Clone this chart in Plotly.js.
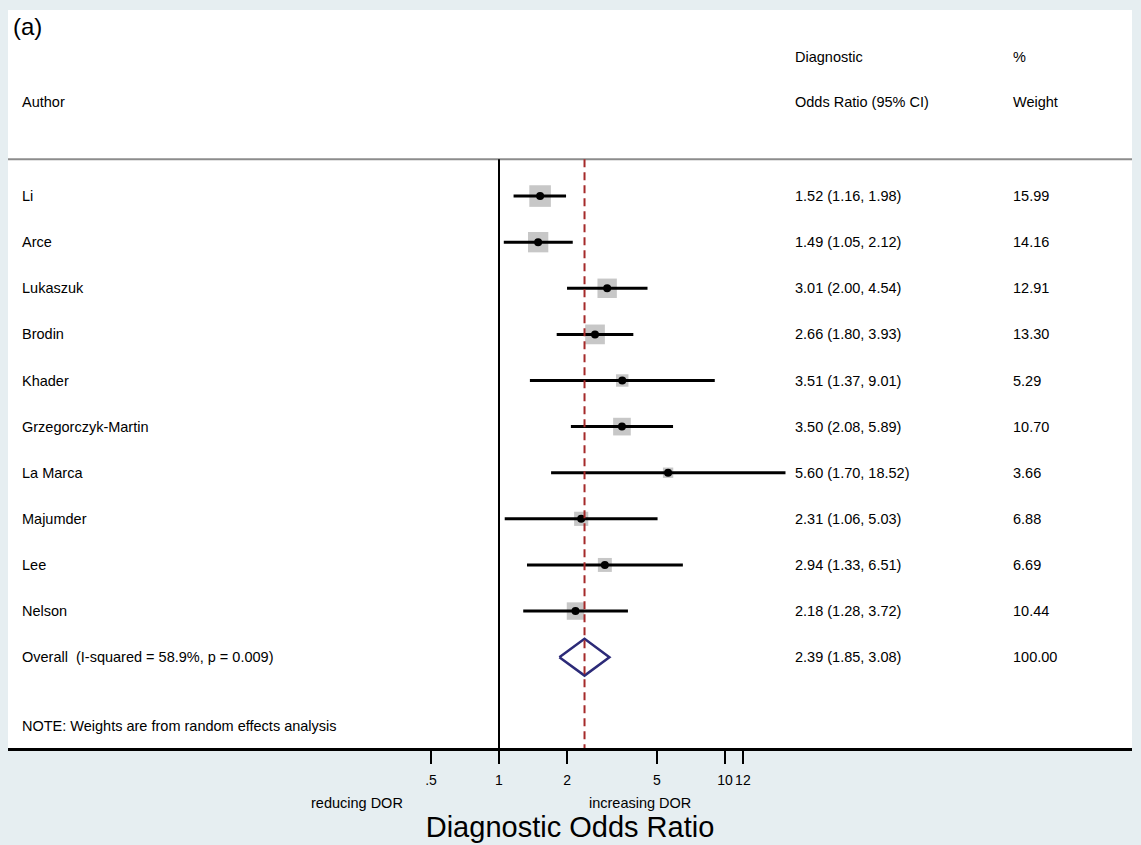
<!DOCTYPE html>
<html>
<head>
<meta charset="utf-8">
<script src="https://cdn.plot.ly/plotly-3.0.1.min.js"></script>
<style>html,body{margin:0;padding:0;background:#e6eef1;}#chart{width:1141px;height:845px;}</style>
</head>
<body>
<div id="chart"></div>
<script>
// ---- data ----
var authors = ["Li","Arce","Lukaszuk","Brodin","Khader","Grzegorczyk-Martin","La Marca","Majumder","Lee","Nelson"];
var dor     = [1.52, 1.49, 3.01, 2.66, 3.51, 3.50, 5.60, 2.31, 2.94, 2.18];
var ciLow   = [1.16, 1.05, 2.00, 1.80, 1.37, 2.08, 1.70, 1.06, 1.33, 1.28];
var ciHigh  = [1.98, 2.12, 4.54, 3.93, 9.01, 5.89, 18.52, 5.03, 6.51, 3.72];
var weights = [15.99, 14.16, 12.91, 13.30, 5.29, 10.70, 3.66, 6.88, 6.69, 10.44];
var overallLabel = "Overall  (I-squared = 58.9%, p = 0.009)";
var overallDor = 2.39, overallLow = 1.85, overallHigh = 3.08, overallWeight = 100.00;
var noteText = "NOTE: Weights are from random effects analysis";
var tickVals = [0.5, 1, 2, 5, 10, 12];
var tickText = [".5", "1", "2", "5", "10", "12"];

// ---- layout helpers ----
var FONT = "Liberation Sans, Arial, Helvetica, sans-serif";
var rows = authors.map(function(_, i){ return i; });
var overallRow = authors.length;
var noteRow = overallRow + 1.5;
var headTop = -3.02, headBottom = -2.04, sepRow = -0.8;
var colName = 0.0107, colCI = 0.6984, colW = 0.8922;

var traces = [];
// weight squares
traces.push({
  type: "scatter", mode: "markers", x: dor, y: rows, hoverinfo: "skip",
  marker: { symbol: "square", color: "#afafaf", size: weights.map(function(w){ return 5.4 * Math.sqrt(w); }), line: {width: 0} },
  showlegend: false
});
// point estimates with CI
traces.push({
  type: "scatter", mode: "markers", x: dor, y: rows, showlegend: false,
  error_x: {
    type: "data", symmetric: false,
    array: dor.map(function(d, i){ return ciHigh[i] - d; }),
    arrayminus: dor.map(function(d, i){ return d - ciLow[i]; }),
    width: 0, thickness: 3, color: "#000"
  },
  marker: { symbol: "circle", color: "#000", size: 8 }
});
// overall diamond
var dh = 0.4;
traces.push({
  type: "scatter", mode: "lines", showlegend: false, hoverinfo: "skip",
  x: [overallLow, overallDor, overallHigh, overallDor, overallLow],
  y: [overallRow, overallRow - dh, overallRow, overallRow + dh, overallRow],
  line: { color: "#2c2a78", width: 2.5 }
});

var ann = [];
function txt(x, y, t, size, anchor, yref){
  ann.push({ xref: "paper", yref: yref || "y", x: x, y: y, text: t, showarrow: false,
    xanchor: anchor || "left", yanchor: "middle", font: { family: FONT, size: size || 14.5, color: "#000" } });
}
txt(colName, headBottom, "Author");
txt(colCI, headTop, "Diagnostic");
txt(colCI, headBottom, "Odds Ratio (95% CI)");
txt(colW, headTop, "%");
txt(colW, headBottom, "Weight");
authors.forEach(function(a, i){
  txt(colName, i, a);
  txt(colCI, i, dor[i].toFixed(2) + " (" + ciLow[i].toFixed(2) + ", " + ciHigh[i].toFixed(2) + ")");
  txt(colW, i, weights[i].toFixed(2));
});
txt(colName, overallRow, overallLabel);
txt(colCI, overallRow, overallDor.toFixed(2) + " (" + overallLow.toFixed(2) + ", " + overallHigh.toFixed(2) + ")");
txt(colW, overallRow, overallWeight.toFixed(2));
txt(colName, noteRow, noteText);
txt(0.003, 0.978, "(a)", 24, "left", "paper");
txt(0.3105, -0.0745, "reducing DOR", 14.5, "center", "paper");
txt(0.5623, -0.0745, "increasing DOR", 14.5, "center", "paper");

var shapes = [
  { type: "line", xref: "paper", yref: "y", x0: 0, x1: 1, y0: sepRow, y1: sepRow, line: { color: "#8c8c8c", width: 2 } },
  { type: "line", xref: "x", yref: "y", x0: 1, x1: 1, y0: sepRow, y1: 11.97, line: { color: "#000", width: 2 } },
  { type: "line", xref: "x", yref: "y", x0: overallDor, x1: overallDor, y0: sepRow, y1: 11.97, line: { color: "#a52a2a", width: 2, dash: "8px,5px" } }
];

var layout = {
  width: 1141, height: 845,
  margin: { l: 8, r: 9, t: 10, b: 97 },
  paper_bgcolor: "#e6eef1", plot_bgcolor: "#ffffff",
  showlegend: false,
  xaxis: {
    type: "log", range: [-2.1726, 2.8009], fixedrange: true,
    tickvals: tickVals, ticktext: tickText, ticks: "outside", ticklen: 13, tickwidth: 2, tickcolor: "#000",
    tickangle: 0, ticklabelstandoff: 5,
    tickfont: { family: FONT, size: 14, color: "#000" },
    showgrid: false, zeroline: false, showline: true, linecolor: "#000", linewidth: 2.5,
    title: { text: "Diagnostic Odds Ratio", font: { family: FONT, size: 29, color: "#000" }, standoff: 30 }
  },
  yaxis: { range: [11.97, -4.035], showgrid: false, zeroline: false, showticklabels: false, showline: false, ticks: "", fixedrange: true },
  shapes: shapes,
  annotations: ann
};

Plotly.newPlot("chart", traces, layout, { displayModeBar: false, staticPlot: true });
</script>
</body>
</html>
